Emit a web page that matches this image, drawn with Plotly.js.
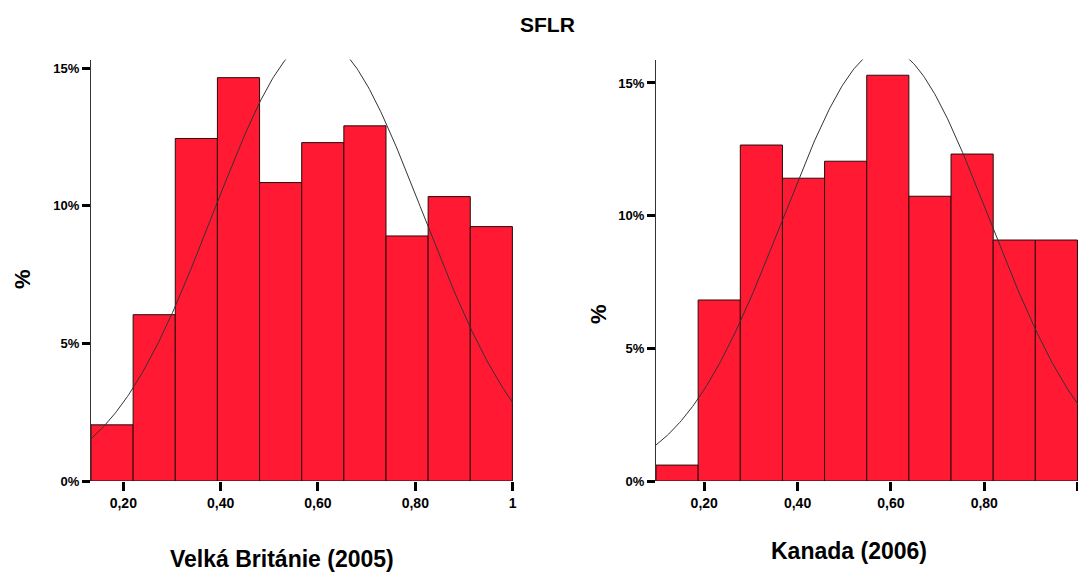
<!DOCTYPE html>
<html>
<head>
<meta charset="utf-8">
<script src="https://cdn.plot.ly/plotly-3.0.1.min.js"></script>
<style>html,body{margin:0;padding:0;background:#fff}#chart{width:1078px;height:572px}</style>
</head>
<body>
<div id="chart"></div>
<script>
// ---- data ----
const chartTitle = "SFLR";
const ukTitle = "Velká Británie (2005)";
const caTitle = "Kanada (2006)";

// Velká Británie: histogram bins (left edge of first bin, bin width) and bar heights in %
const ukBinStart = 0.1336;
const ukBinWidth = 0.0866;
const ukPercent = [2.04, 6.04, 12.44, 14.65, 10.84, 12.29, 12.90, 8.90, 10.33, 9.24];
const ukMean = 0.600;
const ukSd = 0.2152;

// Kanada
const caBinStart = 0.0967;
const caBinWidth = 0.0903;
const caPercent = [0.60, 6.82, 12.66, 11.41, 12.05, 15.29, 10.73, 12.32, 9.08, 9.08];
const caMean = 0.5896;
const caSd = 0.221;

const xTickVals = [0.2, 0.4, 0.6, 0.8, 1];
const xTickText = ["0,20", "0,40", "0,60", "0,80", "1"];
const yTickVals = [0, 5, 10, 15];
const yTickText = ["0%", "5%", "10%", "15%"];

// ---- build traces ----
function binEdges(start, width, n) {
  const out = [];
  for (let i = 0; i < n; i++) out.push(start + i * width);
  return out;
}
// SPSS-style normal overlay: density * bin width * 100%
function normalCurve(mean, sd, width, x0, x1) {
  const xs = [], ys = [];
  const steps = 300;
  for (let i = 0; i <= steps; i++) {
    const x = x0 + (x1 - x0) * i / steps;
    const z = (x - mean) / sd;
    xs.push(x);
    ys.push(100 * width * Math.exp(-0.5 * z * z) / (sd * Math.sqrt(2 * Math.PI)));
  }
  return {xs, ys};
}

const barColor = "#FF1933";
const ukEdges = binEdges(ukBinStart, ukBinWidth, ukPercent.length);
const caEdges = binEdges(caBinStart, caBinWidth, caPercent.length);
const ukRangeX = [ukBinStart, Math.max(1.0008, ukBinStart + ukBinWidth * ukPercent.length)];
const caRangeX = [caBinStart, Math.max(1.0008, caBinStart + caBinWidth * caPercent.length)];
const ukCurve = normalCurve(ukMean, ukSd, ukBinWidth, ukRangeX[0], ukRangeX[1]);
const caCurve = normalCurve(caMean, caSd, caBinWidth, caRangeX[0], caRangeX[1]);

const traces = [
  {type: "bar", x: ukEdges, y: ukPercent, width: ukBinWidth, offset: 0,
   marker: {color: barColor, line: {color: "#2a0a0a", width: 1}}, xaxis: "x", yaxis: "y", hoverinfo: "skip"},
  {type: "scatter", mode: "lines", x: ukCurve.xs, y: ukCurve.ys,
   line: {color: "#333", width: 1}, xaxis: "x", yaxis: "y", hoverinfo: "skip"},
  {type: "bar", x: caEdges, y: caPercent, width: caBinWidth, offset: 0,
   marker: {color: barColor, line: {color: "#2a0a0a", width: 1}}, xaxis: "x2", yaxis: "y2", hoverinfo: "skip"},
  {type: "scatter", mode: "lines", x: caCurve.xs, y: caCurve.ys,
   line: {color: "#333", width: 1}, xaxis: "x2", yaxis: "y2", hoverinfo: "skip"}
];

const FAM = "Liberation Sans, Arial, sans-serif";
const tickFont = {family: FAM, size: 13, color: "#000", weight: "bold"};
const xTickFont = {family: FAM, size: 14, color: "#000", weight: "bold"};

function xAxis(range, domain, anchor) {
  return {range: range, domain: domain, anchor: anchor, tickmode: "array", tickvals: xTickVals, ticktext: xTickText,
    ticks: "outside", ticklen: 9, tickwidth: 3, tickcolor: "#000", showline: false, showgrid: false, zeroline: false,
    tickfont: xTickFont, fixedrange: true};
}
function yAxis(range, domain, anchor) {
  return {range: range, domain: domain, anchor: anchor, tickmode: "array", tickvals: yTickVals, ticktext: yTickText,
    ticks: "outside", ticklen: 8, tickwidth: 3, tickcolor: "#000", showline: true, linecolor: "#333", linewidth: 1,
    showgrid: false, zeroline: false, tickfont: tickFont, fixedrange: true};
}

const W = 1078, H = 572;
const yDom = [(H - 481) / H, (H - 59.5) / H];
const layout = {
  width: W, height: H,
  margin: {l: 0, r: 0, t: 0, b: 0},
  paper_bgcolor: "#fff", plot_bgcolor: "#fff",
  showlegend: false, bargap: 0,
  xaxis: xAxis(ukRangeX, [91 / W, 513 / W], "y"),
  yaxis: yAxis([0, (481 - 60) / 27.5], yDom, "x"),
  xaxis2: xAxis(caRangeX, [656 / W, 1], "y2"),
  yaxis2: yAxis([0, (480 - 58.3) / 26.55], yDom, "x2"),
  annotations: [
    {text: "<b>" + chartTitle + "</b>", x: 547 / W, y: (H - 24) / H, xref: "paper", yref: "paper", showarrow: false,
     xanchor: "center", yanchor: "middle", font: {family: FAM, size: 21, color: "#000"}},
    {text: "<b>" + ukTitle + "</b>", x: 282 / W, y: (H - 559) / H, xref: "paper", yref: "paper", showarrow: false,
     xanchor: "center", yanchor: "middle", font: {family: FAM, size: 23, color: "#000"}},
    {text: "<b>" + caTitle + "</b>", x: 849 / W, y: (H - 551) / H, xref: "paper", yref: "paper", showarrow: false,
     xanchor: "center", yanchor: "middle", font: {family: FAM, size: 23, color: "#000"}},
    {text: "<b>%</b>", x: 22 / W, y: (H - 279) / H, xref: "paper", yref: "paper", showarrow: false, textangle: -90,
     xanchor: "center", yanchor: "middle", font: {family: FAM, size: 22, color: "#000"}},
    {text: "<b>%</b>", x: 598 / W, y: (H - 314) / H, xref: "paper", yref: "paper", showarrow: false, textangle: -90,
     xanchor: "center", yanchor: "middle", font: {family: FAM, size: 22, color: "#000"}}
  ]
};

Plotly.newPlot("chart", traces, layout, {displayModeBar: false, staticPlot: true});
</script>
</body>
</html>
